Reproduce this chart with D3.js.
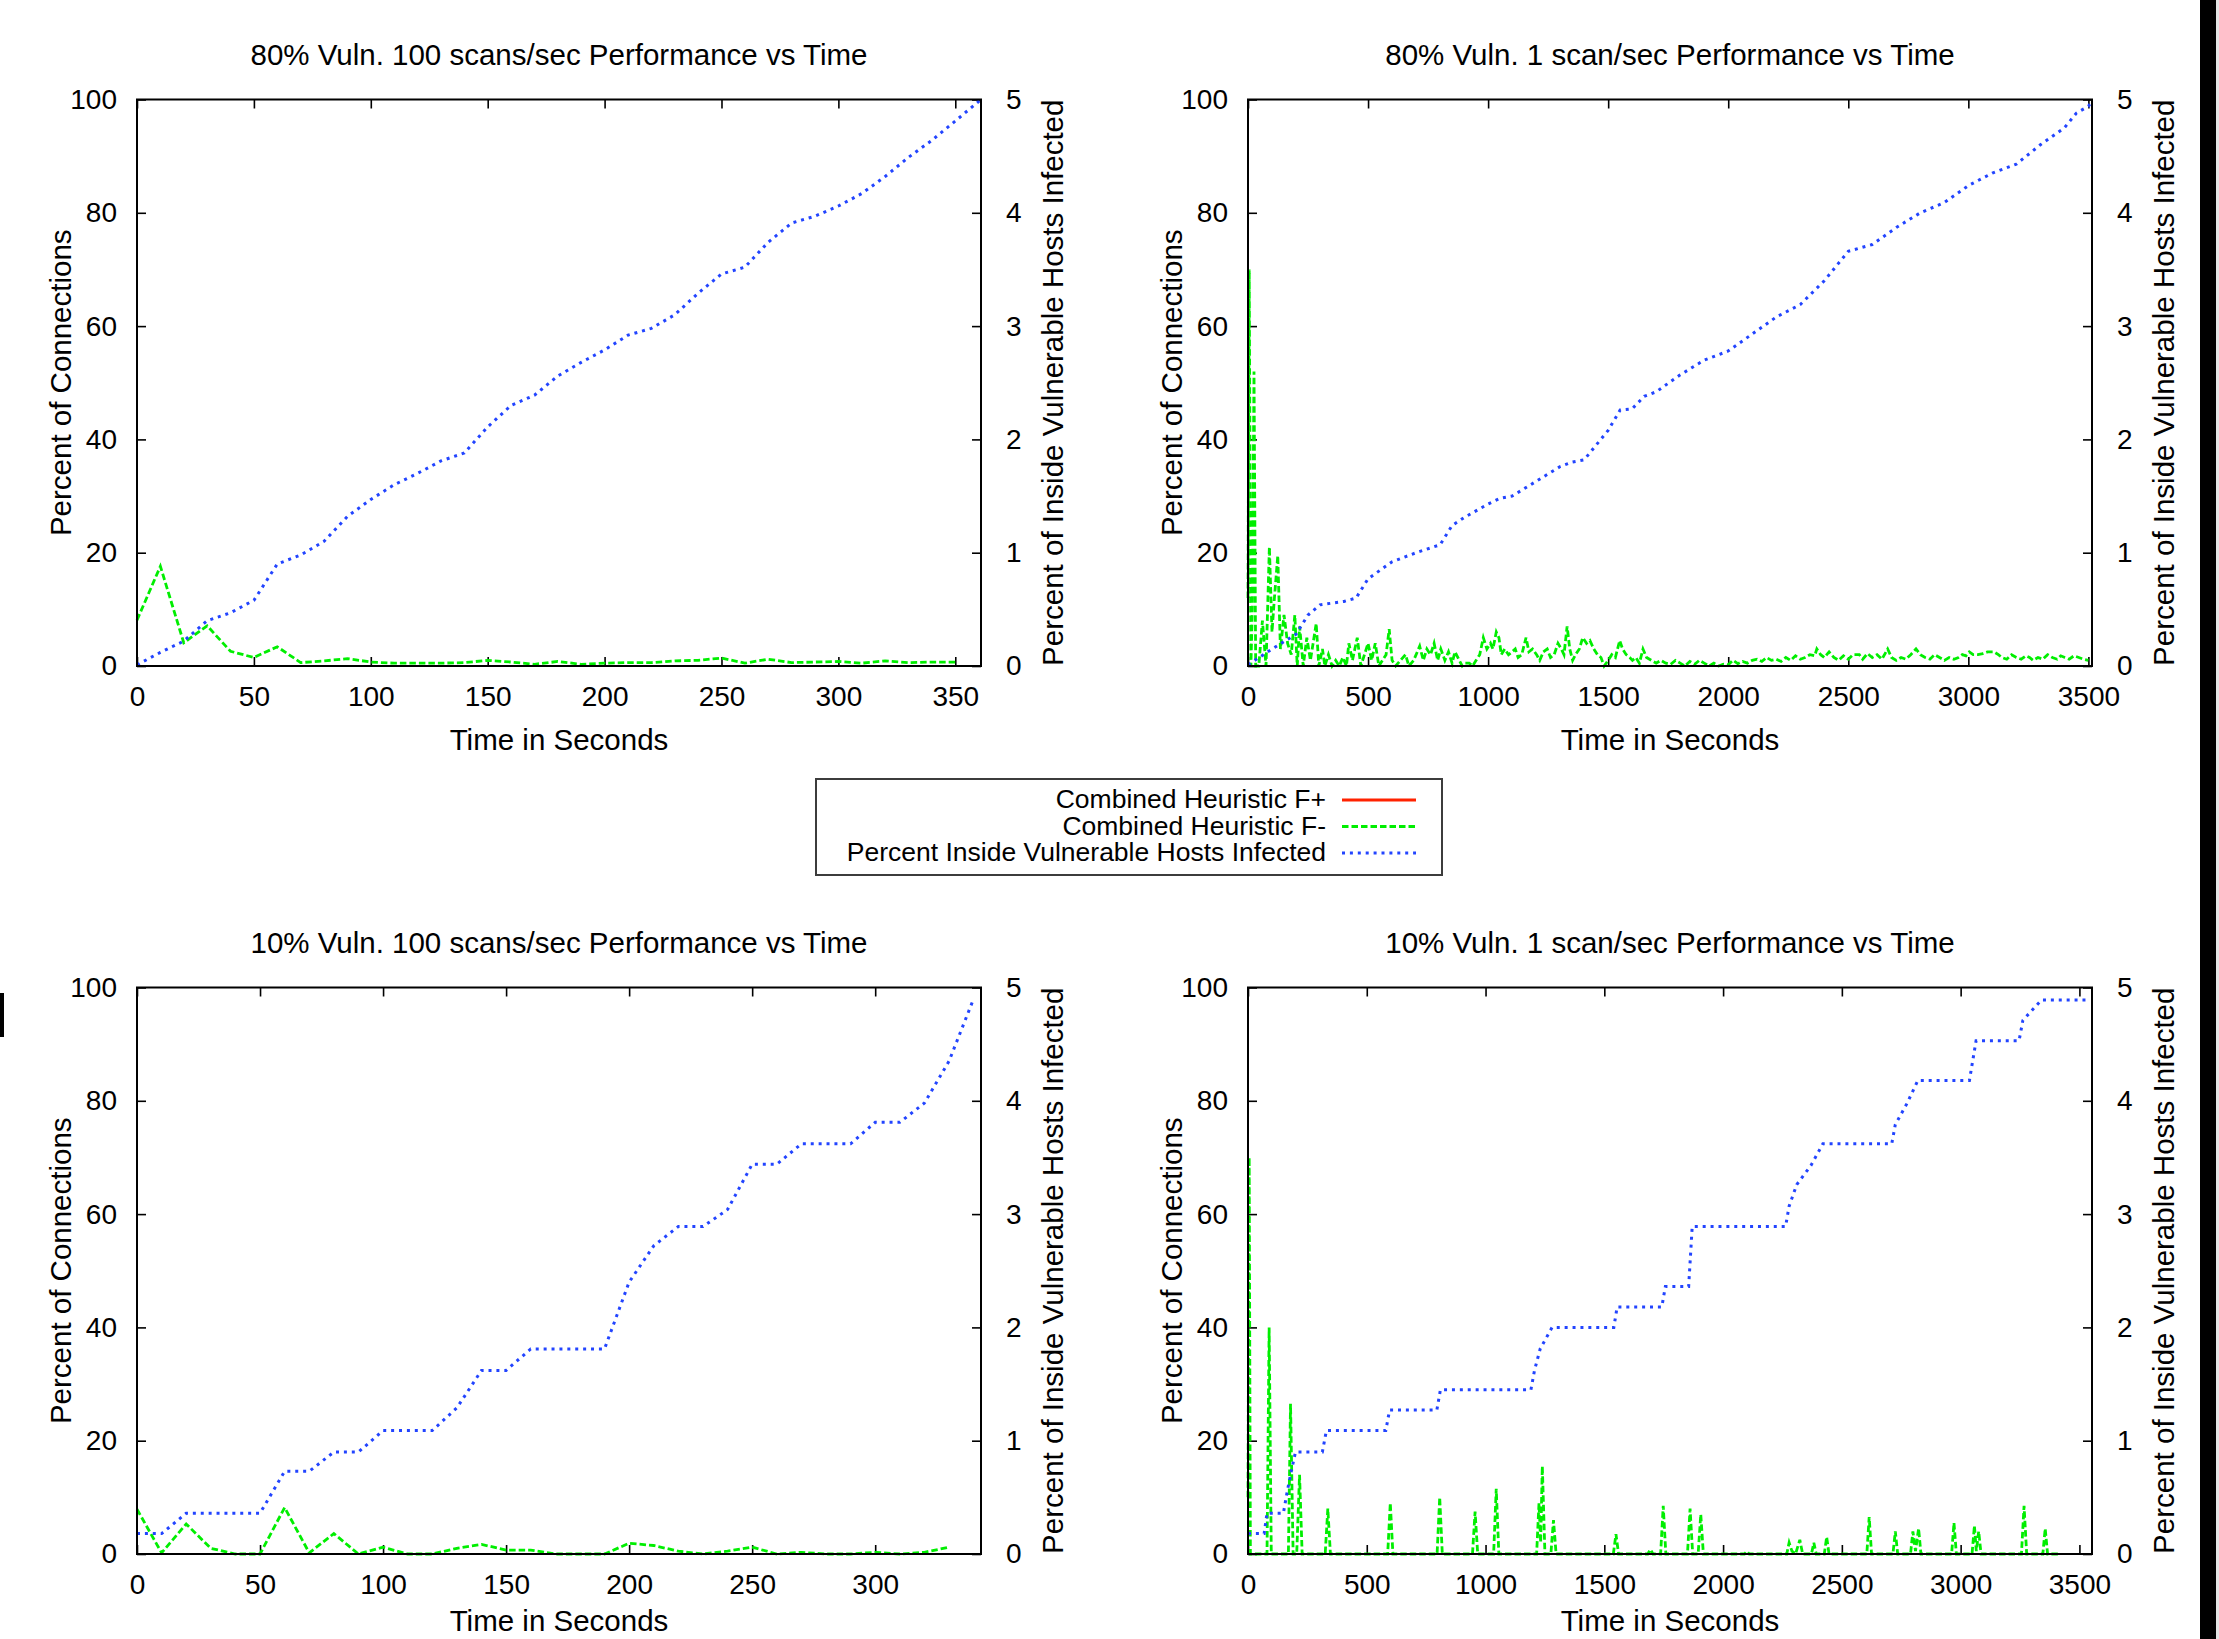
<!DOCTYPE html>
<html>
<head>
<meta charset="utf-8">
<script src="https://cdn.jsdelivr.net/npm/d3@7"></script>
<style>
  body { margin: 0; background: #fff; }
  svg text { font-family: "Liberation Sans", Arial, Helvetica, sans-serif; fill: #000; }
</style>
</head>
<body>
<script>
// ---- data ----
const panelTitles = [
    "80% Vuln. 100 scans/sec Performance vs Time",
    "80% Vuln. 1 scan/sec Performance vs Time",
    "10% Vuln. 100 scans/sec Performance vs Time",
    "10% Vuln. 1 scan/sec Performance vs Time"
];
const seriesNames = ["Combined Heuristic F+", "Combined Heuristic F-", "Percent Inside Vulnerable Hosts Infected"];
const yTicks = [0, 20, 40, 60, 80, 100];
const y2Ticks = [0, 1, 2, 3, 4, 5];
const xTicksShort = [0, 50, 100, 150, 200, 250, 300, 350];
const xTicksLong = [0, 500, 1000, 1500, 2000, 2500, 3000, 3500];
const xMax = [361, 3515, 343, 3553];

// 80% vuln, 100 scans/sec  [time, value]
const tlFneg = [[0,8.1],[10,17.6],[20,4.1],[30,7.1],[40,2.6],[50,1.5],[60,3.4],[70,0.6],[80,0.9],[90,1.3],
    [100,0.7],[110,0.5],[120,0.5],[130,0.5],[140,0.6],[150,1.0],[160,0.7],[170,0.3],[180,0.8],[190,0.3],
    [200,0.5],[210,0.6],[220,0.6],[230,0.9],[240,1.0],[250,1.4],[260,0.5],[270,1.2],[280,0.6],[290,0.7],
    [300,0.8],[310,0.5],[320,0.9],[330,0.6],[340,0.7],[350,0.7]];
const tlInfected = [[0,0.01],[10,0.12],[20,0.22],[30,0.40],[40,0.47],[50,0.58],[60,0.90],[70,0.98],[80,1.10],[90,1.32],
    [100,1.47],[110,1.60],[120,1.70],[130,1.81],[140,1.88],[150,2.11],[160,2.30],[170,2.39],[180,2.56],[190,2.68],
    [200,2.79],[210,2.92],[220,2.98],[230,3.10],[240,3.29],[250,3.46],[260,3.52],[270,3.74],[280,3.91],[290,3.97],
    [300,4.06],[310,4.17],[320,4.32],[330,4.49],[340,4.64],[350,4.81],[361,5.0]];

// 80% vuln, 1 scan/sec
const trFneg = [[0,12],[5,70],[12,0],[18,10],[25,52],[32,0],[45,0],[60,8],[75,0],[89,21],[100,6],[110,12],
    [124,19.5],[135,3],[150,9],[165,4],[180,2],[195,9],[205,0],[215,7],[230,0],[245,5],[260,1],[284,7.5],[295,0],
    [310,3],[320,0],[335,2],[350,0],[365,1],[380,0],[395,1.5],[410,0],[420,4],[435,1],[455,5],[470,0],[485,2],
    [500,4],[515,1],[530,4],[545,0],[560,1],[575,2],[588,6.5],[600,1],[615,0],[635,1],[656,2],[670,0],[690,1],
    [715,3.5],[730,1],[745,3],[760,2],[775,4],[790,1],[803,3],[820,1],[835,2.5],[850,0.5],[862,2.5],[880,1],
    [892,0],[905,0.5],[921,0.5],[935,0],[950,1],[965,2],[980,5],[995,3],[1010,4],[1020,3],[1034,6],[1045,5],
    [1055,2],[1069,3],[1085,2],[1100,2.5],[1113,3],[1125,1.5],[1140,2],[1158,5],[1170,2.5],[1185,3],[1202,2],
    [1215,1],[1230,2.5],[1246,3],[1260,1.5],[1275,2],[1291,4],[1305,3],[1316,2],[1329,7],[1340,3],[1352,1],
    [1364,2],[1380,3],[1394,5],[1410,4],[1424,4.5],[1440,3],[1455,2],[1470,1.5],[1483,0],[1500,1],[1515,2],
    [1530,1.5],[1548,4.5],[1560,3],[1575,2],[1590,1.5],[1601,1],[1615,1.5],[1630,0.5],[1645,3],[1660,1.5],
    [1680,1],[1700,0.5],[1719,1],[1740,0.5],[1760,0.3],[1780,1],[1800,0.5],[1820,0],[1840,0.8],[1860,0.3],
    [1880,1],[1900,0.5],[1920,0],[1940,0.5],[1960,0],[1980,0.3],[2000,0.2],[2020,1],[2040,0.4],[2060,0.8],
    [2080,0.5],[2100,1],[2120,1.2],[2140,0.8],[2160,1.5],[2180,1],[2200,1.2],[2220,0.8],[2240,1.5],[2260,1],
    [2280,1.8],[2300,1.2],[2320,1.5],[2340,2],[2360,1.8],[2369,3],[2385,2],[2400,1.5],[2420,2.5],[2440,1.5],
    [2460,1],[2480,1.8],[2500,1.2],[2520,2],[2546,2],[2560,1.2],[2580,2.2],[2600,1.5],[2620,2],[2640,1.2],
    [2664,3],[2680,1.5],[2700,1],[2720,1.5],[2740,1.2],[2760,2],[2782,3],[2800,2],[2820,1.5],[2840,1.2],
    [2860,2],[2880,1.5],[2900,1],[2920,1.5],[2940,1.2],[2959,1.5],[2975,2],[2990,1.8],[3004,2.5],[3020,2],
    [3040,2],[3060,2.2],[3080,2.5],[3107,2.5],[3125,2],[3140,1.5],[3160,1.2],[3180,2],[3200,1.5],[3220,1.2],
    [3240,1.8],[3255,1.5],[3270,1],[3290,1.5],[3310,1.2],[3330,2],[3350,1.5],[3370,1.2],[3385,1.8],[3402,1.5],
    [3420,1.2],[3440,1.8],[3460,1.5],[3480,1.2],[3500,1]];
const trInfected = [[0,0.01],[100,0.15],[200,0.28],[250,0.45],[300,0.54],[400,0.57],[450,0.60],[500,0.77],
    [600,0.92],[700,1.00],[800,1.07],[850,1.24],[900,1.31],[1000,1.43],[1050,1.48],[1100,1.50],[1200,1.63],
    [1300,1.76],[1350,1.80],[1400,1.82],[1500,2.08],[1550,2.26],[1600,2.27],[1650,2.38],[1700,2.42],[1800,2.57],
    [1900,2.70],[2000,2.78],[2100,2.93],[2200,3.08],[2300,3.19],[2400,3.40],[2500,3.66],[2600,3.72],[2700,3.87],
    [2800,4.00],[2900,4.09],[3000,4.24],[3100,4.35],[3200,4.43],[3300,4.60],[3400,4.75],[3450,4.88],[3500,4.94],
    [3515,4.99]];

// 10% vuln, 100 scans/sec
const blFneg = [[0,7.9],[10,0.2],[20,5.3],[30,1.0],[40,0],[50,0],[60,8.2],[70,0.2],[80,3.6],[90,0],
    [100,1.2],[110,0],[120,0],[130,1.0],[140,1.7],[150,0.7],[160,0.7],[170,0],[180,0],[190,0],
    [200,1.9],[210,1.5],[220,0.5],[230,0],[240,0.5],[250,1.2],[260,0],[270,0.3],[280,0],[290,0],
    [300,0.3],[310,0],[320,0.3],[330,1.2]];
const blInfected = [[0,0.18],[10,0.18],[20,0.36],[30,0.36],[40,0.36],[50,0.36],[60,0.73],[70,0.73],[80,0.90],[90,0.90],
    [100,1.09],[110,1.09],[120,1.09],[130,1.29],[140,1.62],[150,1.62],[160,1.81],[170,1.81],[180,1.81],[190,1.81],
    [200,2.40],[210,2.72],[220,2.89],[230,2.89],[240,3.04],[250,3.44],[260,3.44],[270,3.62],[280,3.62],[290,3.62],
    [300,3.81],[310,3.81],[320,3.98],[330,4.35],[340,4.90]];

// 10% vuln, 1 scan/sec
const brFneg = [[0,10],[5,70],[10,0],[80,0],[89,40],[98,0],[170,0],[179,26.5],[190,0],[205,0],[217,14],[228,0],
    [325,0],[336,8],[347,0],[588,0],[599,9],[610,0],[796,0],[807,10],[818,0],[945,0],[956,7.5],[967,0],
    [1034,0],[1045,11.5],[1056,0],[1215,0],[1225,9],[1232,2],[1239,15.5],[1250,0],[1275,0],[1286,6],[1297,0],
    [1538,0],[1549,3.5],[1560,0],[1683,0],[1694,0.8],[1705,0],[1737,0],[1748,8.5],[1759,0],[1850,0],[1861,8],
    [1872,0],[1895,0],[1906,7],[1917,0],[2090,0],[2100,0.5],[2110,0],[2268,0],[2278,2],[2290,0.5],[2305,0],
    [2323,2.5],[2335,0],[2372,0],[2382,2],[2392,0],[2426,0],[2436,3],[2446,0],[2605,0],[2615,6.5],[2625,0],
    [2715,0],[2725,4],[2735,0],[2789,0],[2799,4],[2810,0.5],[2823,4.5],[2833,0],[2962,0],[2972,5.5],[2982,0],
    [3048,0],[3058,5],[3066,0.5],[3076,4],[3086,0],[3256,0],[3267,8.5],[3278,0],[3346,0],[3356,4.5],[3366,0],
    [3410,0]];
const brInfected = [[0,0.18],[68,0.18],[80,0.36],[149,0.36],[165,0.55],[180,0.71],[200,0.9],[313,0.9],[330,1.09],
    [580,1.09],[596,1.27],[795,1.27],[810,1.45],[1191,1.45],[1206,1.62],[1230,1.81],[1280,2.0],[1540,2.0],
    [1554,2.18],[1742,2.18],[1757,2.36],[1855,2.36],[1870,2.89],[2263,2.89],[2278,3.07],[2310,3.26],[2370,3.43],
    [2420,3.62],[2710,3.62],[2725,3.79],[2775,3.98],[2820,4.18],[3037,4.18],[3065,4.53],[3246,4.53],[3262,4.71],
    [3340,4.89],[3529,4.89]];

// ---- layout ----
const W = 2219, H = 1639;
const plotW = 844, plotH = 566.5;
const colLeft = [137, 1248];
const rowTop = [99.5, 987.5];
const colors = { fplus: "#ff2200", fneg: "#00ee00", infected: "#2244ff" };

const panels = [
    { title: panelTitles[0], fneg: tlFneg, infected: tlInfected, xMax: xMax[0], xTicks: xTicksShort, left: colLeft[0], top: rowTop[0] },
    { title: panelTitles[1], fneg: trFneg, infected: trInfected, xMax: xMax[1], xTicks: xTicksLong, left: colLeft[1], top: rowTop[0] },
    { title: panelTitles[2], fneg: blFneg, infected: blInfected, xMax: xMax[2], xTicks: xTicksShort.slice(0, 7), left: colLeft[0], top: rowTop[1] },
    { title: panelTitles[3], fneg: brFneg, infected: brInfected, xMax: xMax[3], xTicks: xTicksLong, left: colLeft[1], top: rowTop[1] }
];

let svg = d3.select("body").append("svg")
    .attr("width", W)
    .attr("height", H);

svg.append("rect").attr("width", W).attr("height", H).attr("fill", "#fff");

const plain = d3.format("d");

/**
 * Draws one of the four gnuplot-style panels
 */
function drawPanel(p) {
    let x = d3.scaleLinear().domain([0, p.xMax]).range([p.left, p.left + plotW]);
    let y = d3.scaleLinear().domain([0, 100]).range([p.top + plotH, p.top]);
    let y2 = d3.scaleLinear().domain([0, 5]).range([p.top + plotH, p.top]);

    let g = svg.append("g");
    let bottom = p.top + plotH;

    // axes with inward ticks
    let styleAxis = a => {
        a.select(".domain").remove();
        a.selectAll(".tick line").attr("stroke", "#000").attr("stroke-width", 1.6);
        a.selectAll("text").attr("font-size", 28).attr("fill", "#000")
            .attr("font-family", '"Liberation Sans", Arial, Helvetica, sans-serif');
    };

    g.append("g").attr("transform", `translate(0,${bottom})`)
        .call(d3.axisBottom(x).tickValues(p.xTicks).tickFormat(plain).tickSizeInner(-9).tickSizeOuter(0).tickPadding(20))
        .call(styleAxis);
    g.append("g").attr("transform", `translate(0,${p.top})`)
        .call(d3.axisTop(x).tickValues(p.xTicks).tickSizeInner(-9).tickSizeOuter(0).tickFormat(""))
        .call(styleAxis);
    g.append("g").attr("transform", `translate(${p.left},0)`)
        .call(d3.axisLeft(y).tickValues(yTicks).tickFormat(plain).tickSizeInner(-9).tickSizeOuter(0).tickPadding(20))
        .call(styleAxis);
    g.append("g").attr("transform", `translate(${p.left + plotW},0)`)
        .call(d3.axisRight(y2).tickValues(y2Ticks).tickFormat(plain).tickSizeInner(-9).tickSizeOuter(0).tickPadding(25))
        .call(styleAxis);

    // series
    let lineY = d3.line().x(d => x(d[0])).y(d => y(d[1]));
    let lineY2 = d3.line().x(d => x(d[0])).y(d => y2(d[1]));

    g.append("path").datum(p.fneg)
        .attr("d", lineY)
        .attr("fill", "none")
        .attr("stroke", colors.fneg)
        .attr("stroke-width", 2.8)
        .attr("stroke-dasharray", "6.5,3");

    g.append("path").datum(p.infected)
        .attr("d", lineY2)
        .attr("fill", "none")
        .attr("stroke", colors.infected)
        .attr("stroke-width", 3)
        .attr("stroke-dasharray", "3,4.9");

    // border
    g.append("rect")
        .attr("x", p.left).attr("y", p.top)
        .attr("width", plotW).attr("height", plotH)
        .attr("fill", "none").attr("stroke", "#000").attr("stroke-width", 2);

    // titles
    let cx = p.left + plotW / 2;
    g.append("text").attr("x", cx).attr("y", p.top - 34.5)
        .attr("text-anchor", "middle").attr("font-size", 29.5).text(p.title);
    g.append("text").attr("x", cx).attr("y", Math.min(bottom + 84, H - 8))
        .attr("text-anchor", "middle").attr("font-size", 29.5).text("Time in Seconds");

    let cy = p.top + plotH / 2;
    g.append("text")
        .attr("transform", `translate(${p.left - 66},${cy}) rotate(-90)`)
        .attr("text-anchor", "middle").attr("font-size", 29.5).text("Percent of Connections");
    g.append("text")
        .attr("transform", `translate(${p.left + plotW + 82},${cy}) rotate(-90)`)
        .attr("text-anchor", "middle").attr("font-size", 29.5).text("Percent of Inside Vulnerable Hosts Infected");
}

panels.forEach(p => drawPanel(p));

// legend
let legend = svg.append("g");
legend.append("rect")
    .attr("x", 816).attr("y", 779).attr("width", 626).attr("height", 96)
    .attr("fill", "#fff").attr("stroke", "#3c3c3c").attr("stroke-width", 2);

let legendStyles = [
    { color: colors.fplus, dash: null },
    { color: colors.fneg, dash: "6.5,3" },
    { color: colors.infected, dash: "3,4.9" }
];
seriesNames.forEach((name, i) => {
    let ry = 800 + i * 26.5;
    legend.append("text").attr("x", 1326).attr("y", ry + 8)
        .attr("text-anchor", "end").attr("font-size", 26.5).text(name);
    legend.append("line")
        .attr("x1", 1342).attr("x2", 1416).attr("y1", ry).attr("y2", ry)
        .attr("stroke", legendStyles[i].color)
        .attr("stroke-width", 2.8)
        .attr("stroke-dasharray", legendStyles[i].dash);
});

// scan artefacts along the page edges
svg.append("rect").attr("x", 2200).attr("y", 0).attr("width", 16).attr("height", H).attr("fill", "#000");
svg.append("rect").attr("x", 2216).attr("y", 0).attr("width", 3).attr("height", H).attr("fill", "#e4e4e4");
svg.append("rect").attr("x", 0).attr("y", 993).attr("width", 4).attr("height", 44).attr("fill", "#000");
</script>
</body>
</html>
